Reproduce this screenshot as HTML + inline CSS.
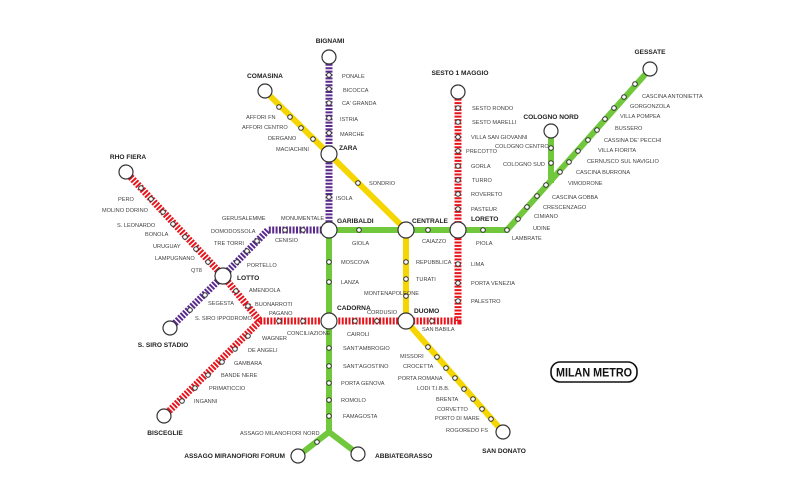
<!DOCTYPE html>
<html><head><meta charset="utf-8"><style>
html,body{margin:0;padding:0;background:#fff;}
svg{display:block;}
text{font-family:"Liberation Sans",sans-serif;}
.s{font-size:5.6px;fill:#444;}
.b{font-size:6.6px;font-weight:bold;fill:#222;}
</style></head><body>
<svg width="800" height="500" viewBox="0 0 800 500">
<rect width="800" height="500" fill="#fff"/>
<!-- green -->
<g fill="none" stroke="#72c83c" stroke-width="6" stroke-linejoin="round">
<polyline points="650,69 507,230 329,230 329,432 298,456"/>
<line x1="329" y1="432" x2="358" y2="454"/>
<line x1="551" y1="131" x2="551" y2="183"/>
</g>
<!-- yellow -->
<polyline points="265,91 329,154 406,230 406,321 503,432" fill="none" stroke="#f5d600" stroke-width="6" stroke-linejoin="round"/>
<!-- red -->
<g fill="none" stroke="#e8141c" stroke-width="7" stroke-dasharray="2 1.4">
<polyline points="126,172 223,276 260,321 458,321 458,92"/>
<line x1="260" y1="321" x2="164" y2="416"/>
</g>
<!-- purple -->
<polyline points="329,57 329,230 268,230 223,276 170,328" fill="none" stroke="#5a2a8e" stroke-width="7" stroke-dasharray="2 1.4"/>
<!-- small stations -->
<g fill="#fff" stroke="#333" stroke-width="1">
<circle cx="329" cy="75" r="2.3"/><circle cx="329" cy="89" r="2.3"/><circle cx="329" cy="103" r="2.3"/><circle cx="329" cy="118" r="2.3"/><circle cx="329" cy="133" r="2.3"/><circle cx="329" cy="197" r="2.3"/>
<circle cx="285" cy="230" r="2.3"/><circle cx="303" cy="230" r="2.3"/><circle cx="257" cy="241" r="2.3"/><circle cx="247" cy="251" r="2.3"/><circle cx="237" cy="262" r="2.3"/><circle cx="205" cy="295" r="2.3"/><circle cx="190" cy="310" r="2.3"/>
<circle cx="141" cy="188" r="2.3"/><circle cx="151" cy="199" r="2.3"/><circle cx="163" cy="212" r="2.3"/><circle cx="173" cy="224" r="2.3"/><circle cx="185" cy="237" r="2.3"/><circle cx="196" cy="249" r="2.3"/><circle cx="208" cy="262" r="2.3"/>
<circle cx="236" cy="291" r="2.3"/><circle cx="248" cy="306" r="2.3"/><circle cx="279" cy="321" r="2.3"/><circle cx="303" cy="321" r="2.3"/><circle cx="355" cy="321" r="2.3"/><circle cx="377" cy="321" r="2.3"/><circle cx="432" cy="321" r="2.3"/>
<circle cx="248" cy="336" r="2.3"/><circle cx="235" cy="349" r="2.3"/><circle cx="222" cy="362" r="2.3"/><circle cx="208" cy="375" r="2.3"/><circle cx="195" cy="388" r="2.3"/><circle cx="182" cy="401" r="2.3"/>
<circle cx="458" cy="108" r="2.3"/><circle cx="458" cy="122" r="2.3"/><circle cx="458" cy="137" r="2.3"/><circle cx="458" cy="151" r="2.3"/><circle cx="458" cy="166" r="2.3"/><circle cx="458" cy="180" r="2.3"/><circle cx="458" cy="194" r="2.3"/><circle cx="458" cy="209" r="2.3"/><circle cx="458" cy="264" r="2.3"/><circle cx="458" cy="283" r="2.3"/><circle cx="458" cy="301" r="2.3"/>
<circle cx="279" cy="107" r="2.3"/><circle cx="290" cy="117" r="2.3"/><circle cx="301" cy="128" r="2.3"/><circle cx="313" cy="139" r="2.3"/><circle cx="358" cy="183" r="2.3"/>
<circle cx="406" cy="262" r="2.3"/><circle cx="406" cy="279" r="2.3"/><circle cx="406" cy="296" r="2.3"/>
<circle cx="428" cy="347" r="2.3"/><circle cx="437" cy="357" r="2.3"/><circle cx="446" cy="368" r="2.3"/><circle cx="455" cy="378" r="2.3"/><circle cx="464" cy="389" r="2.3"/><circle cx="473" cy="399" r="2.3"/><circle cx="482" cy="409" r="2.3"/><circle cx="491" cy="419" r="2.3"/>
<circle cx="359" cy="230" r="2.3"/><circle cx="428" cy="230" r="2.3"/><circle cx="483" cy="230" r="2.3"/><circle cx="507" cy="230" r="2.3"/>
<circle cx="518" cy="219" r="2.3"/><circle cx="527" cy="207" r="2.3"/><circle cx="537" cy="196" r="2.3"/><circle cx="546" cy="185" r="2.3"/><circle cx="560" cy="172" r="2.3"/><circle cx="569" cy="162" r="2.3"/><circle cx="578" cy="151" r="2.3"/><circle cx="588" cy="140" r="2.3"/><circle cx="597" cy="130" r="2.3"/><circle cx="605" cy="119" r="2.3"/><circle cx="614" cy="108" r="2.3"/><circle cx="624" cy="97" r="2.3"/><circle cx="635" cy="84" r="2.3"/>
<circle cx="551" cy="148" r="2.3"/><circle cx="551" cy="163" r="2.3"/>
<circle cx="329" cy="262" r="2.3"/><circle cx="329" cy="282" r="2.3"/><circle cx="329" cy="348" r="2.3"/><circle cx="329" cy="366" r="2.3"/><circle cx="329" cy="383" r="2.3"/><circle cx="329" cy="400" r="2.3"/><circle cx="329" cy="416" r="2.3"/><circle cx="317" cy="442" r="2.3"/>
</g>
<!-- terminals / interchanges -->
<g fill="#fff" stroke="#333" stroke-width="1.2">
<circle cx="329" cy="57" r="7"/><circle cx="265" cy="91" r="7"/><circle cx="126" cy="172" r="7"/><circle cx="170" cy="328" r="7"/><circle cx="164" cy="416" r="7"/><circle cx="298" cy="456" r="7"/><circle cx="358" cy="454" r="7"/><circle cx="503" cy="432" r="7"/><circle cx="650" cy="69" r="7"/><circle cx="551" cy="131" r="7"/><circle cx="458" cy="92" r="7"/>
<circle cx="329" cy="154" r="8"/><circle cx="329" cy="230" r="8"/><circle cx="406" cy="230" r="8"/><circle cx="458" cy="230" r="8"/><circle cx="223" cy="276" r="8"/><circle cx="329" cy="321" r="8"/><circle cx="406" cy="321" r="8"/>
</g>
<!-- bold labels -->
<g class="b">
<text x="330" y="43" text-anchor="middle">BIGNAMI</text>
<text x="265" y="78" text-anchor="middle">COMASINA</text>
<text x="128" y="159" text-anchor="middle">RHO FIERA</text>
<text x="163" y="347" text-anchor="middle">S. SIRO STADIO</text>
<text x="165" y="435" text-anchor="middle">BISCEGLIE</text>
<text x="285" y="458" text-anchor="end">ASSAGO MIRANOFIORI FORUM</text>
<text x="375" y="458">ABBIATEGRASSO</text>
<text x="504" y="453" text-anchor="middle">SAN DONATO</text>
<text x="650" y="54" text-anchor="middle">GESSATE</text>
<text x="551" y="119" text-anchor="middle">COLOGNO NORD</text>
<text x="460" y="75" text-anchor="middle">SESTO 1 MAGGIO</text>
<text x="339" y="150">ZARA</text>
<text x="337" y="223">GARIBALDI</text>
<text x="412" y="223">CENTRALE</text>
<text x="471" y="221">LORETO</text>
<text x="237" y="280">LOTTO</text>
<text x="337" y="310">CADORNA</text>
<text x="414" y="313">DUOMO</text>
</g>
<g class="s">
<text x="342" y="78">PONALE</text><text x="343" y="92">BICOCCA</text><text x="342" y="105">CA' GRANDA</text><text x="340" y="121">ISTRIA</text><text x="340" y="136">MARCHE</text><text x="336" y="200">ISOLA</text>
<text x="281" y="220">MONUMENTALE</text><text x="275" y="242">CENISIO</text><text x="222" y="220">GERUSALEMME</text><text x="211" y="233">DOMODOSSOLA</text><text x="214" y="245">TRE TORRI</text><text x="247" y="267">PORTELLO</text><text x="208" y="305">SEGESTA</text><text x="195" y="320">S. SIRO IPPODROMO</text>
<text x="118" y="201">PERO</text><text x="102" y="212">MOLINO DORINO</text><text x="117" y="227">S. LEONARDO</text><text x="145" y="236">BONOLA</text><text x="153" y="248">URUGUAY</text><text x="155" y="260">LAMPUGNANO</text><text x="191" y="272">QT8</text>
<text x="249" y="292">AMENDOLA</text><text x="255" y="306">BUONARROTI</text><text x="269" y="315">PAGANO</text><text x="287" y="335">CONCILIAZIONE</text><text x="347" y="336">CAIROLI</text><text x="367" y="314">CORDUSIO</text><text x="422" y="331">SAN BABILA</text>
<text x="262" y="340">WAGNER</text><text x="248" y="352">DE ANGELI</text><text x="234" y="365">GAMBARA</text><text x="221" y="377">BANDE NERE</text><text x="209" y="390">PRIMATICCIO</text><text x="194" y="403">INGANNI</text>
<text x="472" y="110">SESTO RONDO</text><text x="472" y="124">SESTO MARELLI</text><text x="471" y="139">VILLA SAN GIOVANNI</text><text x="466" y="153">PRECOTTO</text><text x="471" y="168">GORLA</text><text x="472" y="182">TURRO</text><text x="471" y="196">ROVERETO</text><text x="471" y="211">PASTEUR</text><text x="471" y="266">LIMA</text><text x="471" y="285">PORTA VENEZIA</text><text x="471" y="303">PALESTRO</text>
<text x="246" y="119">AFFORI FN</text><text x="242" y="129">AFFORI CENTRO</text><text x="268" y="140">DERGANO</text><text x="276" y="151">MACIACHINI</text><text x="369" y="185">SONDRIO</text>
<text x="416" y="264">REPUBBLICA</text><text x="416" y="281">TURATI</text><text x="364" y="295">MONTENAPOLEONE</text>
<text x="400" y="358">MISSORI</text><text x="403" y="368">CROCETTA</text><text x="398" y="380">PORTA ROMANA</text><text x="417" y="390">LODI T.I.B.B.</text><text x="436" y="401">BRENTA</text><text x="437" y="411">CORVETTO</text><text x="435" y="420">PORTO DI MARE</text><text x="446" y="432">ROGOREDO FS</text>
<text x="352" y="245">GIOLA</text><text x="422" y="243">CAIAZZO</text><text x="476" y="245">PIOLA</text><text x="512" y="240">LAMBRATE</text>
<text x="533" y="230">UDINE</text><text x="534" y="218">CIMIANO</text><text x="543" y="209">CRESCENZAGO</text><text x="552" y="199">CASCINA GOBBA</text><text x="568" y="185">VIMODRONE</text><text x="576" y="174">CASCINA BURRONA</text><text x="587" y="163">CERNUSCO SUL NAVIGLIO</text><text x="598" y="152">VILLA FIORITA</text><text x="604" y="142">CASSINA DE' PECCHI</text><text x="615" y="130">BUSSERO</text><text x="620" y="118">VILLA POMPEA</text><text x="630" y="108">GORGONZOLA</text><text x="642" y="98">CASCINA ANTONIETTA</text>
<text x="495" y="148">COLOGNO CENTRO</text><text x="503" y="166">COLOGNO SUD</text>
<text x="341" y="264">MOSCOVA</text><text x="341" y="284">LANZA</text><text x="343" y="350">SANT'AMBROGIO</text><text x="343" y="368">SANT'AGOSTINO</text><text x="341" y="385">PORTA GENOVA</text><text x="341" y="402">ROMOLO</text><text x="343" y="418">FAMAGOSTA</text><text x="240" y="435">ASSAGO MILANOFIORI NORD</text>
</g>
<rect x="551" y="362" width="86" height="20" rx="9" fill="#fff" stroke="#111" stroke-width="1.6"/>
<text x="556" y="376.5" textLength="76" lengthAdjust="spacingAndGlyphs" style="font-size:12px;font-weight:bold;fill:#111">MILAN METRO</text>
</svg>
</body></html>
